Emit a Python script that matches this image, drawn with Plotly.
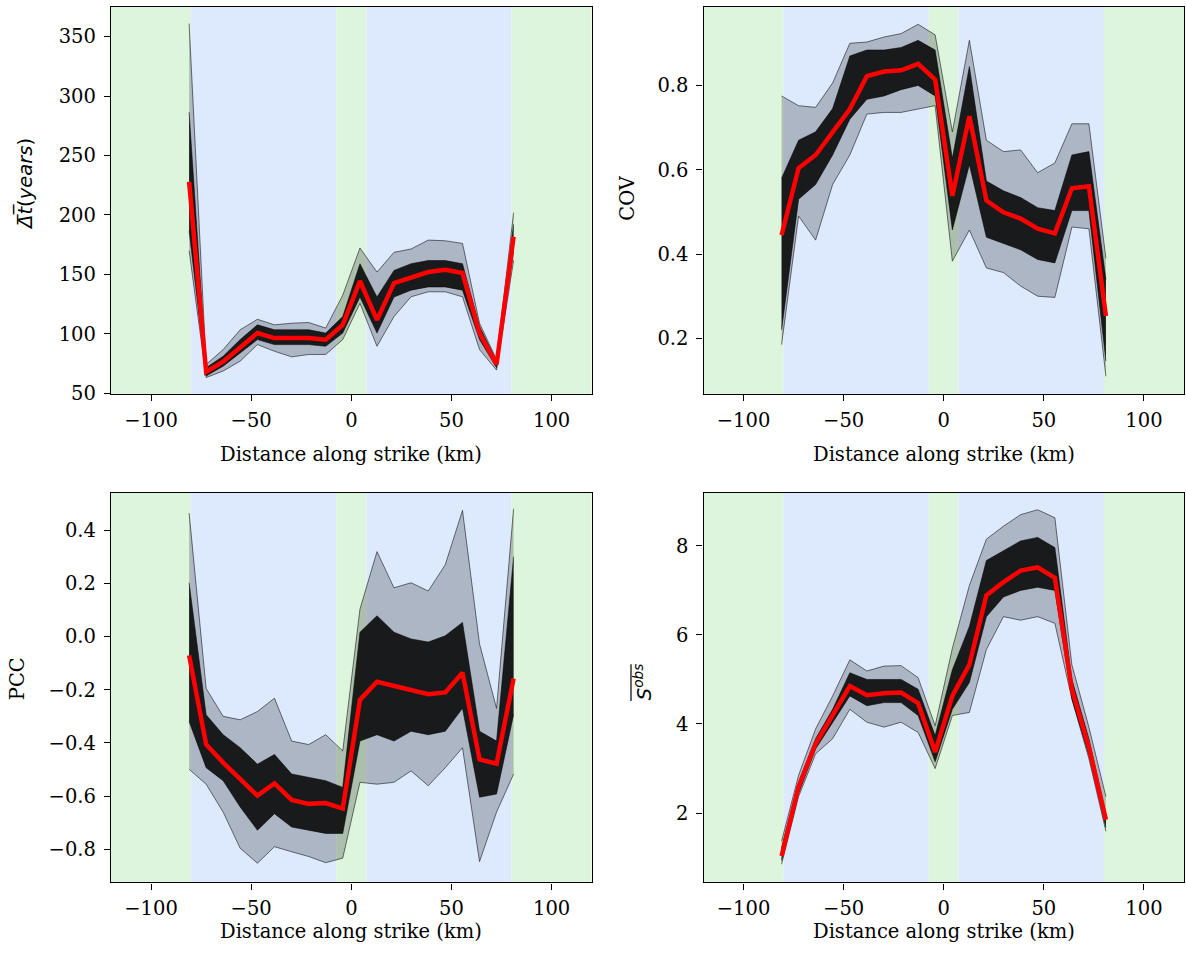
import plotly.graph_objects as go

# ---------------- data ----------------
X = [-81, -72.5, -64, -55.5, -46.9, -38.4, -29.8, -21.3, -12.8, -4.3,
     4.3, 12.8, 21.3, 29.8, 38.4, 46.9, 55.5, 64, 72.5, 81]

# Panel 1: mean recurrence interval (years)
dt_mean = [228, 68, 76.6, 88.8, 100.7, 96.5, 96.5, 96.5, 95.2, 107.6,
           144.5, 111.8, 142.8, 147.8, 152, 154, 151.2, 100.7, 74.3, 181.7]
dt_hi = [361, 74.3, 86.8, 103.5, 112.3, 107.6, 109, 109.6, 104.9, 132.6,
         172.2, 152, 168.6, 171.4, 178.9, 178.3, 176.1, 109, 78.5, 201.9]
dt_lo = [170, 63.3, 68.8, 77.1, 91, 85.4, 80.7, 82.7, 82.7, 95.2,
         125.7, 89.6, 114.6, 131.2, 135.4, 135.4, 131.2, 86.8, 69.6, 161.7]
dt_core_hi = [286.5, 71.6, 81.3, 95.2, 107.6, 103.5, 103.5, 103.5, 100.7, 114.6,
              159, 131, 153.4, 159, 161.7, 161.7, 159, 106.2, 77.1, 192.2]
dt_core_lo = [186.7, 64.6, 72.9, 84, 95.2, 91, 91, 91, 89.6, 100.7,
              131, 100.7, 131, 136.8, 139.5, 139.5, 136.8, 95.2, 71.6, 170]

# Panel 2: COV
cov_mean = [0.445, 0.604, 0.635, 0.69, 0.744, 0.822, 0.833, 0.836, 0.851, 0.814,
            0.538, 0.727, 0.527, 0.499, 0.484, 0.46, 0.449, 0.556, 0.561, 0.253]
cov_hi = [0.775, 0.752, 0.748, 0.806, 0.9, 0.903, 0.915, 0.923, 0.945, 0.92,
          0.69, 0.907, 0.67, 0.643, 0.647, 0.593, 0.616, 0.709, 0.709, 0.39]
cov_lo = [0.185, 0.49, 0.433, 0.565, 0.635, 0.732, 0.736, 0.736, 0.744, 0.752,
          0.383, 0.457, 0.367, 0.356, 0.324, 0.30, 0.297, 0.464, 0.46, 0.11]
cov_core_hi = [0.58, 0.67, 0.69, 0.745, 0.87, 0.884, 0.884, 0.89, 0.907, 0.884,
               0.627, 0.845, 0.573, 0.55, 0.534, 0.51, 0.503, 0.635, 0.643, 0.34]
cov_core_lo = [0.22, 0.53, 0.565, 0.635, 0.72, 0.767, 0.775, 0.79, 0.80, 0.775,
               0.457, 0.612, 0.44, 0.425, 0.41, 0.387, 0.379, 0.503, 0.503, 0.146]

# Panel 3: PCC
pcc_mean = [-0.071, -0.406, -0.474, -0.536, -0.598, -0.552, -0.614, -0.629, -0.626, -0.647,
            -0.238, -0.170, -0.185, -0.201, -0.217, -0.210, -0.136, -0.462, -0.478, -0.158]
pcc_hi = [0.464, -0.195, -0.30, -0.313, -0.282, -0.232, -0.393, -0.406, -0.369, -0.43,
          0.103, 0.319, 0.183, 0.202, 0.171, 0.27, 0.474, -0.028, -0.27, 0.48]
pcc_lo = [-0.499, -0.555, -0.66, -0.796, -0.852, -0.79, -0.809, -0.827, -0.85, -0.833,
          -0.548, -0.555, -0.548, -0.505, -0.561, -0.493, -0.418, -0.846, -0.66, -0.517]
pcc_core_hi = [0.202, -0.294, -0.369, -0.418, -0.48, -0.443, -0.517, -0.53, -0.542, -0.567,
               0.016, 0.078, 0.016, -0.009, -0.021, 0.003, 0.053, -0.356, -0.393, 0.30]
pcc_core_lo = [-0.319, -0.493, -0.542, -0.641, -0.728, -0.666, -0.716, -0.728, -0.74, -0.74,
               -0.393, -0.369, -0.393, -0.356, -0.369, -0.356, -0.27, -0.604, -0.592, -0.294]

# Panel 4: mean observed slip
s_mean = [1.037, 2.593, 3.556, 4.2, 4.852, 4.644, 4.689, 4.704, 4.467, 3.37,
          4.63, 5.333, 6.889, 7.185, 7.444, 7.519, 7.281, 4.778, 3.481, 1.852]
s_hi = [1.37, 2.85, 3.89, 4.63, 5.44, 5.19, 5.3, 5.31, 5.04, 3.96,
        5.7, 7.11, 8.15, 8.44, 8.7, 8.81, 8.63, 5.33, 3.93, 2.37]
s_lo = [0.85, 2.37, 3.33, 3.67, 4.33, 4.04, 3.93, 4.04, 3.81, 3.0,
        4.19, 4.26, 5.67, 6.41, 6.33, 6.41, 6.26, 4.56, 3.22, 1.59]
s_core_hi = [1.22, 2.70, 3.67, 4.33, 5.15, 5.0, 5.0, 5.0, 4.78, 3.74,
             5.22, 6.19, 7.67, 7.89, 8.11, 8.19, 7.96, 5.0, 3.67, 1.96]
s_core_lo = [0.93, 2.44, 3.44, 4.04, 4.63, 4.41, 4.48, 4.48, 4.19, 3.15,
             4.33, 4.93, 6.41, 6.85, 7.0, 7.07, 7.0, 4.56, 3.30, 1.67]

# background segment boundaries (km) and their kinds
BAND_EDGES = [-120, -80, -7.5, 7.5, 80, 120]
BAND_KINDS = ["green", "blue", "green", "blue", "green"]

X_TICKS = [-100, -50, 0, 50, 100]
X_TICKTEXT = ["\u2212100", "\u221250", "0", "50", "100"]
DT_TICKS = [50, 100, 150, 200, 250, 300, 350]
COV_TICKS = [0.2, 0.4, 0.6, 0.8]
PCC_TICKS = [0.4, 0.2, 0.0, -0.2, -0.4, -0.6, -0.8]
PCC_TICKTEXT = ["0.4", "0.2", "0.0", "\u22120.2", "\u22120.4", "\u22120.6", "\u22120.8"]
S_TICKS = [2, 4, 6, 8]

XLABEL = "Distance along strike (km)"

# ---------------- styling ----------------
SERIF = "DejaVu Serif"
FS = 19.5
GREEN = "#ddf5dd"
BLUE = "#dde9fd"
BAND_COLOR = {"green": GREEN, "blue": BLUE}

W, H = 1186, 968
COLS = [(111 / W, 591.7 / W), (703.5 / W, 1184 / W)]
ROWS = [(1 - 398.5 / H, 1 - 6.7 / H), (1 - 892.5 / H, 1 - 498.5 / H)]

fig = go.Figure()

panels = [
    dict(n=1, col=0, row=0, lo=dt_lo, hi=dt_hi, clo=dt_core_lo, chi=dt_core_hi, mean=dt_mean,
         yrange=[49.5, 375.2], yticks=DT_TICKS, yticktext=[str(v) for v in DT_TICKS]),
    dict(n=2, col=1, row=0, lo=cov_lo, hi=cov_hi, clo=cov_core_lo, chi=cov_core_hi, mean=cov_mean,
         yrange=[0.068, 0.987], yticks=COV_TICKS, yticktext=["%.1f" % v for v in COV_TICKS]),
    dict(n=3, col=0, row=1, lo=pcc_lo, hi=pcc_hi, clo=pcc_core_lo, chi=pcc_core_hi, mean=pcc_mean,
         yrange=[-0.924, 0.54], yticks=PCC_TICKS, yticktext=PCC_TICKTEXT),
    dict(n=4, col=1, row=1, lo=s_lo, hi=s_hi, clo=s_core_lo, chi=s_core_hi, mean=s_mean,
         yrange=[0.444, 9.19], yticks=S_TICKS, yticktext=[str(v) for v in S_TICKS]),
]

axis_common = dict(showline=True, mirror=True, linecolor="black", linewidth=1.3,
                   ticks="outside", ticklen=6, tickwidth=1.3, tickcolor="black",
                   showgrid=False, zeroline=False,
                   tickfont=dict(family=SERIF, size=FS, color="black"))

shapes = []
for p in panels:
    n = p["n"]
    sfx = "" if n == 1 else str(n)
    xa, ya = "x" + sfx, "y" + sfx
    thin = dict(color="rgba(0,0,0,0.6)", width=0.9)
    fig.add_trace(go.Scatter(x=X, y=p["lo"], mode="lines", line=thin, xaxis=xa, yaxis=ya,
                             showlegend=False, hoverinfo="skip"))
    fig.add_trace(go.Scatter(x=X, y=p["hi"], mode="lines", line=thin, xaxis=xa, yaxis=ya,
                             fill="tonexty", fillcolor="rgba(0,0,0,0.22)",
                             showlegend=False, hoverinfo="skip"))
    fig.add_trace(go.Scatter(x=X, y=p["clo"], mode="lines", line=thin, xaxis=xa, yaxis=ya,
                             showlegend=False, hoverinfo="skip"))
    fig.add_trace(go.Scatter(x=X, y=p["chi"], mode="lines", line=thin, xaxis=xa, yaxis=ya,
                             fill="tonexty", fillcolor="rgba(0,0,0,0.86)",
                             showlegend=False, hoverinfo="skip"))
    fig.add_trace(go.Scatter(x=X, y=p["mean"], mode="lines",
                             line=dict(color="#ff0000", width=4.5),
                             xaxis=xa, yaxis=ya, showlegend=False))

    xkey = "xaxis" + sfx
    ykey = "yaxis" + sfx
    fig.layout[xkey] = dict(domain=COLS[p["col"]], anchor=ya, range=[-120, 120],
                            tickvals=X_TICKS, ticktext=X_TICKTEXT,
                            ticklabelstandoff=2, **axis_common)
    fig.layout[ykey] = dict(domain=ROWS[p["row"]], anchor=xa, range=p["yrange"],
                            tickvals=p["yticks"], ticktext=p["yticktext"],
                            ticklabelstandoff=4, **axis_common)

    for i, kind in enumerate(BAND_KINDS):
        shapes.append(dict(type="rect", xref=xa, yref=ya + " domain",
                           x0=BAND_EDGES[i], x1=BAND_EDGES[i + 1], y0=0, y1=1,
                           fillcolor=BAND_COLOR[kind], line=dict(width=0), layer="below"))

# overline decoration for the S^obs label (paper coordinates)
shapes.append(dict(type="line", xref="paper", yref="paper",
                   x0=631 / W, x1=631 / W, y0=1 - 709 / H, y1=1 - 672 / H,
                   line=dict(color="black", width=1.2)))

fig.update_layout(shapes=shapes)

# axis titles as annotations
ann = []
for col, row, ypx in [(0, 0, 460), (1, 0, 460), (0, 1, 942), (1, 1, 942)]:
    xc = (COLS[col][0] + COLS[col][1]) / 2
    ann.append(dict(text=XLABEL, xref="paper", yref="paper", x=xc, y=1 - ypx / H,
                    showarrow=False, xanchor="center", yanchor="middle",
                    font=dict(family=SERIF, size=FS, color="black")))

OV = "\u0305"
dt_label = "<i>" + "".join(c + OV for c in "\u0394t") + "</i>(<i>years</i>)"
s_label = "<i>S</i><sup><i>obs</i></sup>"

ylabels = [
    (dt_label, 25, 186, "DejaVu Sans"),
    ("COV", 628, 200, SERIF),
    ("PCC", 17, 687, SERIF),
    (s_label, 643, 690, "DejaVu Sans"),
]
for txt, xp, yp, fam in ylabels:
    ann.append(dict(text=txt, xref="paper", yref="paper", x=xp / W, y=1 - yp / H,
                    showarrow=False, xanchor="center", yanchor="middle", textangle=-90,
                    font=dict(family=fam, size=FS, color="black")))

fig.update_layout(annotations=ann, width=W, height=H,
                  margin=dict(l=0, r=0, t=0, b=0),
                  paper_bgcolor="white", plot_bgcolor="white",
                  showlegend=False)

fig.write_html("out.html")
